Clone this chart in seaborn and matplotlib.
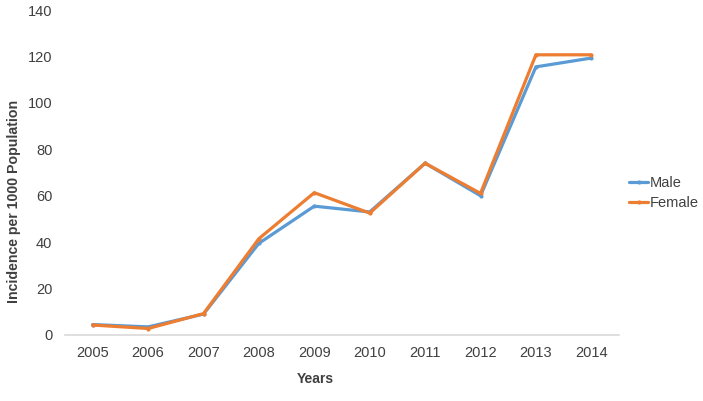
import pandas as pd
import seaborn as sns
import matplotlib.pyplot as plt

# data
years = [2005, 2006, 2007, 2008, 2009, 2010, 2011, 2012, 2013, 2014]
male = [4.5, 3.5, 9.0, 39.5, 55.5, 53.0, 74.0, 60.0, 115.5, 119.3]
female = [4.3, 2.8, 9.2, 41.5, 61.3, 52.5, 74.0, 61.0, 120.7, 120.7]

df = pd.DataFrame({"Years": years, "Male": male, "Female": female})
df = df.melt(id_vars="Years", var_name="Sex", value_name="Incidence")

sns.set_style("white")
plt.rcParams['font.family'] = ['Liberation Sans', 'DejaVu Sans']

fig = plt.figure(figsize=(7.03, 4.01), dpi=100)
ax = fig.add_axes([65 / 703, 1 - 335 / 401, (619 - 65) / 703, 325 / 401])

sns.lineplot(
    data=df, x="Years", y="Incidence", hue="Sex",
    palette={"Male": "#5B9BD5", "Female": "#ED7D31"},
    linewidth=2.3, marker="o", markersize=3, markeredgewidth=0, ax=ax
)

ax.set_xlim(2004.5, 2014.5)
ax.set_ylim(0, 140)
ax.set_xticks(years)
ax.set_yticks(range(0, 141, 20))
ax.tick_params(axis="both", length=0, labelsize=10.5, labelcolor="#404040")
ax.tick_params(axis="x", pad=8)
ax.tick_params(axis="y", pad=9)

for s in ["top", "right", "left"]:
    ax.spines[s].set_visible(False)
ax.spines["bottom"].set_color("#D9D9D9")
ax.spines["bottom"].set_linewidth(1.2)

ax.set_xlabel("Years", fontsize=10, fontweight="bold", color="#404040")
ax.set_ylabel("Incidence per 1000 Population", fontsize=10.2, fontweight="bold",
              color="#404040")
ax.xaxis.set_label_coords(0.451, -0.114)
ax.yaxis.set_label_coords(-0.08, 0.41)

leg = ax.legend(loc="center left", bbox_to_anchor=(1.0, 0.437), frameon=False,
                fontsize=10.5, handlelength=1.3, handletextpad=0.1,
                labelspacing=0.45, borderaxespad=0.3)
for t in leg.get_texts():
    t.set_color("#404040")

fig.savefig("out.png", dpi=100)
